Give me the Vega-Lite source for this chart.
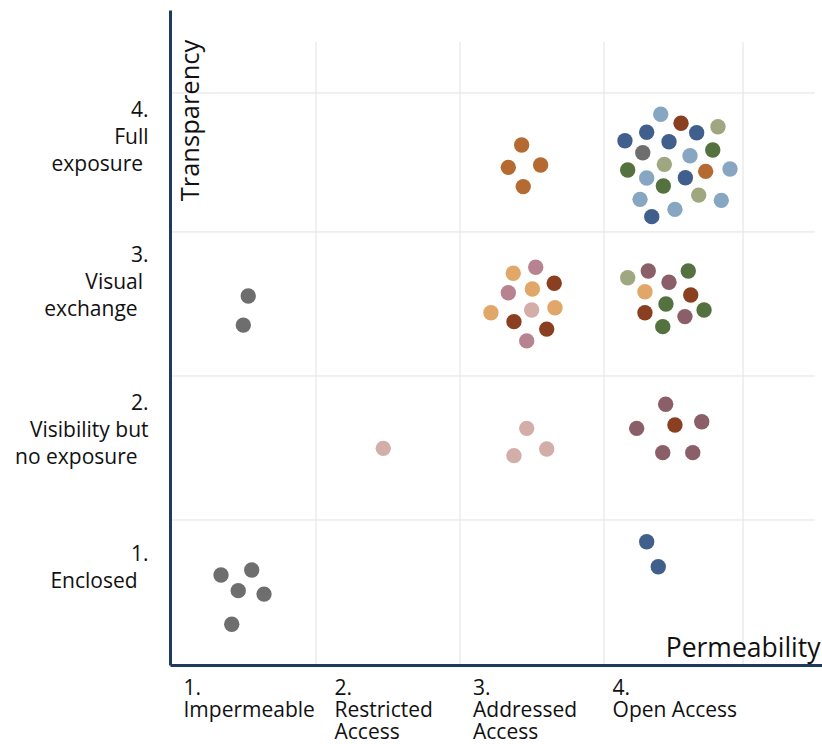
{
  "$schema": "https://vega.github.io/schema/vega-lite/v6.json",
  "width": 652,
  "height": 655,
  "autosize": {"type": "none"},
  "padding": {"left": 170, "top": 10, "right": 0, "bottom": 79},
  "background": "white",
  "config": {"view": {"stroke": null}, "font": "Open Sans"},
  "layer": [
    {
      "data": {"values": [{"g": 1.008}, {"g": 2.002}, {"g": 2.995}, {"g": 3.955}]},
      "mark": {"type": "rule", "color": "#e2e2e2", "strokeWidth": 1},
      "encoding": {
        "x": {"field": "g", "type": "quantitative", "scale": {"domain": [0, 4.5], "nice": false, "zero": false}},
        "y": {"datum": 0, "type": "quantitative"},
        "y2": {"datum": 4.356}
      }
    },
    {
      "data": {"values": [{"h": 1.014}, {"h": 2.021}, {"h": 3.028}, {"h": 4.0}]},
      "mark": {"type": "rule", "color": "#e2e2e2", "strokeWidth": 1},
      "encoding": {
        "y": {"field": "h", "type": "quantitative", "scale": {"domain": [0, 4.58], "nice": false, "zero": false}},
        "x": {"datum": 0, "type": "quantitative"},
        "x2": {"datum": 4.452}
      }
    },
    {
      "data": {"values": [
        {"x": 3.387, "y": 3.851, "cat": "C"},
        {"x": 3.527, "y": 3.788, "cat": "D"},
        {"x": 3.782, "y": 3.764, "cat": "E"},
        {"x": 3.290, "y": 3.725, "cat": "B"},
        {"x": 3.635, "y": 3.722, "cat": "B"},
        {"x": 3.140, "y": 3.666, "cat": "B"},
        {"x": 3.444, "y": 3.659, "cat": "B"},
        {"x": 3.263, "y": 3.582, "cat": "A"},
        {"x": 3.746, "y": 3.601, "cat": "F"},
        {"x": 3.589, "y": 3.561, "cat": "C"},
        {"x": 3.412, "y": 3.501, "cat": "E"},
        {"x": 3.159, "y": 3.461, "cat": "F"},
        {"x": 3.290, "y": 3.405, "cat": "C"},
        {"x": 3.697, "y": 3.452, "cat": "G"},
        {"x": 3.865, "y": 3.468, "cat": "C"},
        {"x": 3.557, "y": 3.407, "cat": "B"},
        {"x": 3.405, "y": 3.349, "cat": "F"},
        {"x": 3.649, "y": 3.286, "cat": "E"},
        {"x": 3.244, "y": 3.256, "cat": "C"},
        {"x": 3.805, "y": 3.249, "cat": "C"},
        {"x": 3.485, "y": 3.186, "cat": "C"},
        {"x": 3.325, "y": 3.135, "cat": "B"},
        {"x": 2.427, "y": 3.636, "cat": "G"},
        {"x": 2.335, "y": 3.480, "cat": "G"},
        {"x": 2.558, "y": 3.496, "cat": "G"},
        {"x": 2.438, "y": 3.345, "cat": "G"},
        {"x": 2.369, "y": 2.739, "cat": "H"},
        {"x": 2.524, "y": 2.781, "cat": "I"},
        {"x": 2.652, "y": 2.669, "cat": "D"},
        {"x": 2.335, "y": 2.603, "cat": "I"},
        {"x": 2.501, "y": 2.629, "cat": "H"},
        {"x": 2.215, "y": 2.463, "cat": "H"},
        {"x": 2.496, "y": 2.482, "cat": "J"},
        {"x": 2.657, "y": 2.498, "cat": "H"},
        {"x": 2.374, "y": 2.401, "cat": "D"},
        {"x": 2.600, "y": 2.349, "cat": "D"},
        {"x": 2.462, "y": 2.266, "cat": "I"},
        {"x": 3.159, "y": 2.708, "cat": "E"},
        {"x": 3.301, "y": 2.755, "cat": "K"},
        {"x": 3.577, "y": 2.755, "cat": "F"},
        {"x": 3.444, "y": 2.676, "cat": "K"},
        {"x": 3.278, "y": 2.610, "cat": "H"},
        {"x": 3.594, "y": 2.587, "cat": "D"},
        {"x": 3.423, "y": 2.524, "cat": "F"},
        {"x": 3.278, "y": 2.463, "cat": "D"},
        {"x": 3.686, "y": 2.482, "cat": "F"},
        {"x": 3.554, "y": 2.436, "cat": "K"},
        {"x": 3.401, "y": 2.366, "cat": "F"},
        {"x": 2.462, "y": 1.655, "cat": "J"},
        {"x": 2.600, "y": 1.510, "cat": "J"},
        {"x": 2.374, "y": 1.464, "cat": "J"},
        {"x": 3.421, "y": 1.823, "cat": "K"},
        {"x": 3.485, "y": 1.678, "cat": "D"},
        {"x": 3.221, "y": 1.655, "cat": "K"},
        {"x": 3.670, "y": 1.701, "cat": "K"},
        {"x": 3.401, "y": 1.485, "cat": "K"},
        {"x": 3.608, "y": 1.485, "cat": "K"},
        {"x": 1.472, "y": 1.515, "cat": "J"},
        {"x": 0.540, "y": 2.580, "cat": "A"},
        {"x": 0.506, "y": 2.377, "cat": "A"},
        {"x": 0.352, "y": 0.629, "cat": "A"},
        {"x": 0.564, "y": 0.664, "cat": "A"},
        {"x": 0.471, "y": 0.520, "cat": "A"},
        {"x": 0.649, "y": 0.496, "cat": "A"},
        {"x": 0.426, "y": 0.285, "cat": "A"},
        {"x": 3.290, "y": 0.862, "cat": "B"},
        {"x": 3.370, "y": 0.687, "cat": "B"}
      ]},
      "mark": {"type": "circle", "size": 236, "opacity": 1},
      "encoding": {
        "x": {
          "field": "x", "type": "quantitative",
          "scale": {"domain": [0, 4.5], "nice": false, "zero": false},
          "axis": {
            "title": "Permeability",
            "titleFontSize": 26.5, "titleFontWeight": "normal", "titleColor": "#111",
            "titleX": 650, "titleY": -9, "titleAlign": "right", "titleBaseline": "alphabetic", "titleAnchor": null,
            "values": [0.0897, 1.132, 2.088, 3.051],
            "labelExpr": "datum.value < 0.5 ? ['1.', 'Impermeable'] : datum.value < 1.5 ? ['2.', 'Restricted', 'Access'] : datum.value < 2.5 ? ['3.', 'Addressed', 'Access'] : ['4.', 'Open Access']",
            "labelAlign": "left", "labelBaseline": "alphabetic", "labelPadding": 29,
            "labelLineHeight": 22, "labelFontSize": 21, "labelColor": "#111",
            "labelFlush": false, "labelOverlap": false, "labelBound": false,
            "ticks": false, "tickSize": 0, "grid": false,
            "domainColor": "#1E3A5F", "domainWidth": 3, "zindex": 1
          }
        },
        "y": {
          "field": "y", "type": "quantitative",
          "scale": {"domain": [0, 4.58], "nice": false, "zero": false},
          "axis": {
            "title": "Transparency",
            "titleFontSize": 25.5, "titleFontWeight": "normal", "titleColor": "#111",
            "titleX": 20, "titleY": 110, "titleAngle": -90, "titleAlign": "center", "titleBaseline": "middle", "titleAnchor": null,
            "values": [0.734, 1.79, 2.818, 3.832],
            "labelExpr": "datum.value < 1.2 ? ['1.', 'Enclosed\u00a0\u00a0\u200b'] : datum.value < 2.2 ? ['2.', 'Visibility but', 'no exposure\u00a0\u00a0\u200b'] : datum.value < 3.2 ? ['3.', 'Visual\u00a0\u200b', 'exchange\u00a0\u00a0\u200b'] : ['4.', 'Full', 'exposure\u00a0\u200b']",
            "labelAlign": "right", "labelBaseline": "alphabetic", "labelPadding": 22,
            "labelLineHeight": 27, "labelFontSize": 21, "labelColor": "#111",
            "labelFlush": false, "labelOverlap": false, "labelBound": false,
            "ticks": false, "tickSize": 0, "grid": false,
            "domainColor": "#1E3A5F", "domainWidth": 3, "zindex": 1
          }
        },
        "color": {
          "field": "cat", "type": "nominal", "legend": null,
          "scale": {
            "domain": ["A", "B", "C", "D", "E", "F", "G", "H", "I", "J", "K"],
            "range": ["#6E6E6E", "#415F8C", "#87A6C2", "#8A3F20", "#9FA780", "#54723F", "#B56A31", "#E1A769", "#B88390", "#D3AEA9", "#8A5F68"]
          }
        }
      }
    }
  ]
}
